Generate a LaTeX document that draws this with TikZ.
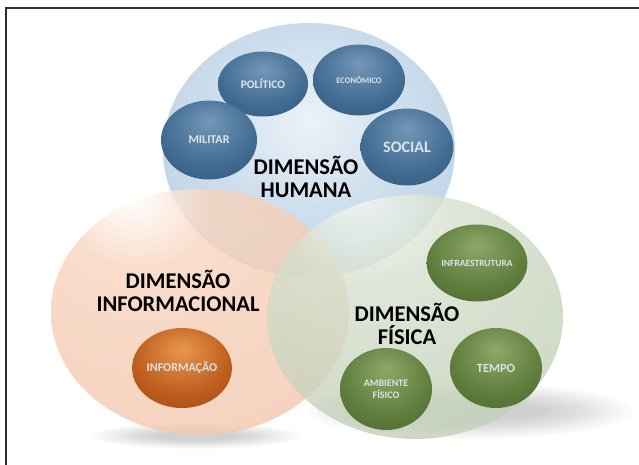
\documentclass[tikz,border=0pt]{standalone}
\usepackage{fontspec}
\setmainfont{Carlito}
\usetikzlibrary{positioning,shapes.geometric}

\definecolor{frameline}{HTML}{2E2E2E}
\definecolor{balltext}{HTML}{DCE3E8}
% big spheres
\definecolor{hblue}{HTML}{C2D7E9}
\definecolor{hbluelo}{HTML}{A3BFD8}
\definecolor{hbluerim}{HTML}{88A7C3}
\definecolor{iorange}{HTML}{F8D4BE}
\definecolor{iorangelo}{HTML}{F0C2A8}
\definecolor{iorangerim}{HTML}{E2AE92}
\definecolor{fgreen}{HTML}{D7E0CF}
\definecolor{fgreenlo}{HTML}{BAC8AE}
\definecolor{fgreenrim}{HTML}{9EB091}
% small spheres
\definecolor{sbluehi}{HTML}{7397B7}
\definecolor{sblue}{HTML}{426C92}
\definecolor{sbluelo}{HTML}{264766}
\definecolor{sgreenhi}{HTML}{8DA768}
\definecolor{sgreen}{HTML}{5F7E3D}
\definecolor{sgreenlo}{HTML}{3B5424}
\definecolor{sorangehi}{HTML}{E8964E}
\definecolor{sorange}{HTML}{BE5E1E}
\definecolor{sorangelo}{HTML}{86380C}

\pgfdeclareradialshading{humanaball}{\pgfpoint{0bp}{6bp}}{color(0bp)=(white!60!hblue); color(16bp)=(hblue); color(40bp)=(hbluelo); color(56bp)=(hbluerim); color(70bp)=(hbluerim)}
\pgfdeclareradialshading{infoball}{\pgfpoint{-12bp}{24bp}}{color(0bp)=(white); color(12bp)=(iorange); color(50bp)=(iorangelo); color(68bp)=(iorangerim); color(80bp)=(iorangerim)}
\pgfdeclareradialshading{fisicaball}{\pgfpoint{-10bp}{26bp}}{color(0bp)=(white!80!fgreen); color(14bp)=(fgreen); color(50bp)=(fgreenlo); color(70bp)=(fgreenrim); color(80bp)=(fgreenrim)}
\pgfdeclareradialshading{blueball}{\pgfpoint{0bp}{12bp}}{color(0bp)=(sbluehi); color(24bp)=(sblue); color(52bp)=(sbluelo); color(70bp)=(sbluelo)}
\pgfdeclareradialshading{greenball}{\pgfpoint{0bp}{12bp}}{color(0bp)=(sgreenhi); color(24bp)=(sgreen); color(52bp)=(sgreenlo); color(70bp)=(sgreenlo)}
\pgfdeclareradialshading{orangeball}{\pgfpoint{0bp}{12bp}}{color(0bp)=(sorangehi); color(24bp)=(sorange); color(52bp)=(sorangelo); color(70bp)=(sorangelo)}

\tikzset{bigball/.style={ellipse,inner sep=0pt,minimum width=296pt,minimum height=246pt,fill opacity=0.8}}
\tikzset{smallball/.style={ellipse,inner sep=0pt,minimum width=92pt,minimum height=79pt,text=balltext,align=center}}
\tikzset{dimlabel/.style={font=\bfseries\fontsize{22.5}{23}\selectfont,align=center}}
\tikzset{shadowlayer/.style={fill=black,fill opacity=0.02}}
\newcommand{\ballfont}[1]{\bfseries\fontsize{#1}{12}\selectfont}

\begin{document}
\begin{tikzpicture}[x=1pt,y=-1pt]
    \useasboundingbox (0,0) rectangle (639,465);
    \draw[frameline,line width=2.5pt] (639,8) -| (6,465);

    % shadows on the floor
    \foreach \k in {0,...,9} {
        \fill[shadowlayer] (196,436) ellipse ({104-\k*7} and {13-\k*1});
        \fill[shadowlayer] (470,411) ellipse ({162-\k*9} and {28-\k*2});
    }

    % the three dimensions
    \node[bigball,shade,shading=humanaball,minimum width=292pt,minimum height=254pt] (humana) at (309,150) {};
    \node[bigball,shade,shading=infoball,minimum width=298pt,minimum height=246pt] (info) at (200,312) {};
    \node[bigball,shade,shading=fisicaball,minimum width=296pt,minimum height=244pt] (fisica) at (415,317) {};

    \node[dimlabel] (humanalabel) at (306,177) {DIMENSÃO\\HUMANA};
    \node[dimlabel] (infolabel) at (178,291) {DIMENSÃO\\INFORMACIONAL};
    \node[dimlabel] (fisicalabel) at (407,324) {DIMENSÃO\\FÍSICA};

    % human
    \node[smallball,shade,shading=blueball,minimum width=90pt,minimum height=65pt,font=\ballfont{11.5}] (politico) at (263,84) {POLÍTICO};
    \node[smallball,shade,shading=blueball,minimum height=71pt,font=\ballfont{8.5}] (economico) at (359,80) {ECONÔMICO};
    \node[smallball,shade,shading=blueball,minimum width=96pt,font=\ballfont{12}] (militar) at (209,140) {MILITAR};
    \node[smallball,shade,shading=blueball,minimum width=93pt,minimum height=77pt,font=\ballfont{16}] (social) at (407,147) {SOCIAL};

    % informational
    \node[smallball,shade,shading=orangeball,minimum width=87pt,minimum height=80pt,font=\ballfont{12}] (informacao) at (182,368) {INFORMAÇÃO};

    % physical
    \node[smallball,shade,shading=greenball,minimum width=93pt,minimum height=77pt,font=\ballfont{9.5}] (infra) at (477,263) {INFRAESTRUTURA};
    \node[smallball,shade,shading=greenball,minimum height=80pt,font=\ballfont{12.5}] (tempo) at (496,368) {TEMPO};
    \node[smallball,shade,shading=greenball,minimum height=82pt,font=\ballfont{10}] (ambiente) at (386,389) {AMBIENTE\\FÍSICO};
\end{tikzpicture}
\end{document}
